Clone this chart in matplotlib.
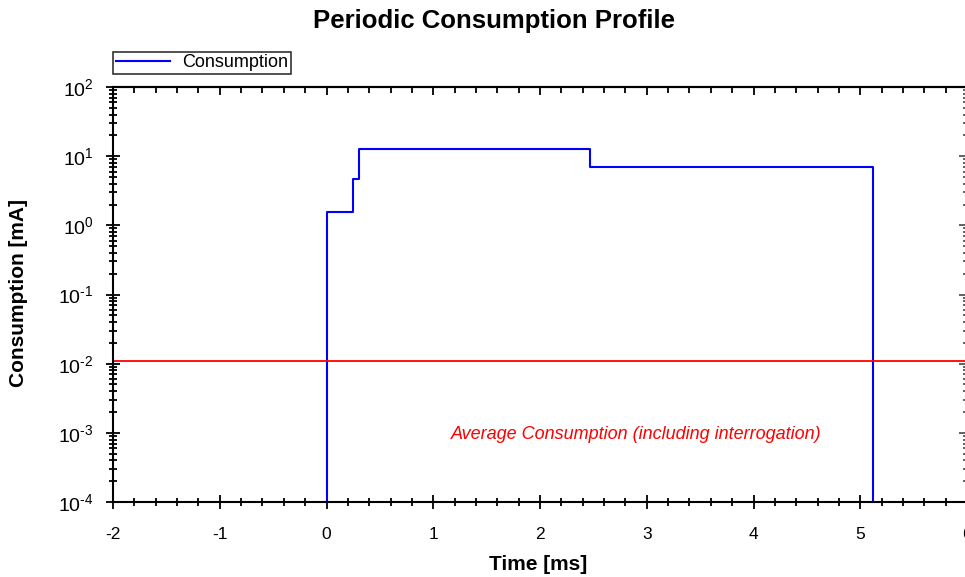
import matplotlib
matplotlib.use("Agg")
import matplotlib.pyplot as plt
from matplotlib.ticker import LogLocator, MultipleLocator, FuncFormatter, NullFormatter
import numpy as np

plt.rcParams['font.family'] = ['Liberation Sans', 'DejaVu Sans']
plt.rcParams['mathtext.fontset'] = 'custom'
plt.rcParams['mathtext.rm'] = 'Liberation Sans'
plt.rcParams['mathtext.it'] = 'Liberation Sans:italic'
plt.rcParams['axes.unicode_minus'] = False

# step profile (ms, mA)
time_ms = [-2.0, 0.0, 0.25, 0.30, 2.47, 5.12, 6.0]
current_ma = [1e-6, 1.58, 4.6, 12.5, 6.9, 1e-6, 1e-6]
avg_ma = 0.0108


def pow10(v, pos):
    e = int(round(np.log10(v)))
    s = str(e).replace('-', r'\text{-}')
    return r'$\mathregular{10^{%s}}$' % s


fig = plt.figure(figsize=(9.65, 5.77), dpi=100)
ax = fig.add_axes([113 / 965, 75 / 577, 854 / 965, 415 / 577])

ax.step(time_ms, current_ma, where='post', color='#0000ff', lw=1.5, label='Consumption')
ax.axhline(avg_ma, color='#ff0000', lw=1.3)
ax.text(2.9, 9.6e-4, 'Average Consumption (including interrogation)', color='#ff0000',
        style='italic', fontsize=13, ha='center', va='center')

ax.set_yscale('log')
ax.set_xlim(-2, 6)
ax.set_ylim(1e-4, 1e2)
ax.xaxis.set_major_locator(MultipleLocator(1))
ax.xaxis.set_minor_locator(MultipleLocator(0.2))
ax.yaxis.set_major_locator(LogLocator(base=10, numticks=10))
ax.yaxis.set_minor_locator(LogLocator(base=10, subs=range(2, 10), numticks=20))
ax.yaxis.set_major_formatter(FuncFormatter(pow10))
ax.yaxis.set_minor_formatter(NullFormatter())

ax.tick_params(which='both', direction='inout', width=1.3, colors='black')
ax.tick_params(which='major', length=10)
ax.tick_params(which='minor', length=6)
ax.tick_params(axis='x', labelsize=12.5, pad=13)
ax.tick_params(axis='y', labelsize=14, pad=9)
for s in ax.spines.values():
    s.set_linewidth(1.5)

# top and right ticks point inward only
top = ax.secondary_xaxis('top')
top.xaxis.set_major_locator(MultipleLocator(1))
top.xaxis.set_minor_locator(MultipleLocator(0.2))
top.tick_params(which='both', direction='in', labeltop=False, width=1.3)
top.tick_params(which='major', length=6)
top.tick_params(which='minor', length=4)
top.spines['top'].set_linewidth(1.5)
right = ax.secondary_yaxis('right')
right.tick_params(which='both', direction='in', labelright=False, width=1.3, colors='#555555')
right.tick_params(which='major', length=6)
right.tick_params(which='minor', length=3)
right.spines['right'].set_visible(False)

ax.set_xlabel('Time [ms]', fontsize=15, fontweight='bold')
ax.set_ylabel('Consumption [mA]', fontsize=15, fontweight='bold')
ax.xaxis.set_label_coords(0.498, -0.128)
ax.yaxis.set_label_coords(-0.099, 0.504)
fig.suptitle('Periodic Consumption Profile', fontsize=18.5, fontweight='bold', y=0.985, x=0.512)

leg = ax.legend(loc='lower left', bbox_to_anchor=(113 / 965, 1 - 74 / 577),
                bbox_transform=fig.transFigure, fontsize=13, frameon=True, fancybox=False,
                borderpad=0.15, handlelength=3.0, handletextpad=0.7, borderaxespad=0)
leg.get_frame().set_edgecolor('black')
leg.get_frame().set_linewidth(1.2)

fig.savefig('out.png', dpi=100)
